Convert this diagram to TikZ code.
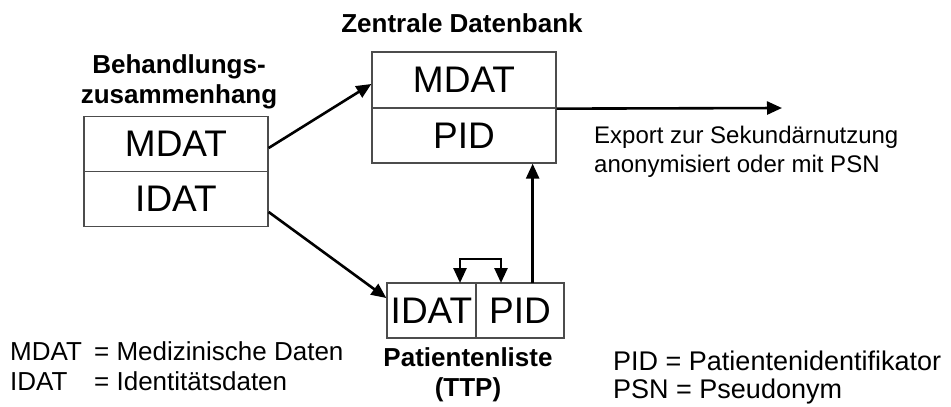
\documentclass[tikz,border=0pt]{standalone}
\usepackage{fontspec}
\setmainfont{Liberation Sans}
\usetikzlibrary{arrows.meta}
\tikzset{
  cell/.style={draw=black!70, line width=1.3pt, inner sep=0pt, font=\fontsize{37}{40}\selectfont},
  arr/.style={line width=2.6pt, -{Triangle[length=15pt,width=13pt]}},
  lbl/.style={font=\fontsize{26}{30}\selectfont\bfseries, inner sep=0pt, anchor=base},
  leg/.style={font=\fontsize{26}{30}\selectfont, inner sep=0pt, anchor=base west},
  legr/.style={font=\fontsize{27}{30}\selectfont, inner sep=0pt, anchor=base west},
  exp/.style={font=\fontsize{24}{28}\selectfont, inner sep=0pt, anchor=base west}
}
\begin{document}
\begin{tikzpicture}[x=1pt,y=-1pt]
\useasboundingbox (0,0) rectangle (951,407);
% left box
\node[cell, minimum width=184pt, minimum height=55pt] (lm) at (176,144) {MDAT};
\node[cell, minimum width=184pt, minimum height=55pt] (li) at (176,199) {IDAT};
% top box
\node[cell, minimum width=184pt, minimum height=56pt] (tm) at (464,80) {MDAT};
\node[cell, minimum width=184pt, minimum height=55pt] (tp) at (464,135.5) {PID};
% bottom box
\node[cell, minimum width=89pt, minimum height=55pt] (bi) at (431.5,310.5) {IDAT};
\node[cell, minimum width=88pt, minimum height=55pt] (bp) at (520,310.5) {PID};
% labels
\node[lbl] (zd) at (462,32) {Zentrale Datenbank};
\node[lbl] (bh1) at (179,73) {Behandlungs-};
\node[lbl] (bh2) at (179,103) {zusammenhang};
\node[lbl] (pl1) at (468,366) {Patientenliste};
\node[lbl] (pl2) at (468,396) {(TTP)};
% legends
\node[leg] (l1a) at (10,360) {MDAT};
\node[leg] (l1b) at (94,360) {= Medizinische Daten};
\node[leg] (l2a) at (10,390) {IDAT};
\node[leg] (l2b) at (94,390) {= Identitätsdaten};
\node[legr] (r1) at (613,370) {PID = Patientenidentifikator};
\node[legr] (r2) at (613,398) {PSN = Pseudonym};
\node[exp] (e1) at (594,143) {Export zur Sekundärnutzung};
\node[exp] (e2) at (594,172) {anonymisiert oder mit PSN};
% connectors
\coordinate (ex) at (782,108);
\draw[arr] (lm.east |- 0,148) -- (tm.west |- 0,84);
\draw[arr] (li.east |- 0,212) -- (bi.west |- 0,298);
\draw[arr] (tm.south east) -- (ex);
\draw[arr] (bp.north east |- 0,283) ++(-32,0) coordinate (vs) -- (vs |- tp.south);
\draw[line width=2.6pt, {Triangle[length=15pt,width=13pt]}-{Triangle[length=15pt,width=13pt]}]
  (460,283) -- (460,259) -- (501,259) -- (501,283);
\end{tikzpicture}
\end{document}
